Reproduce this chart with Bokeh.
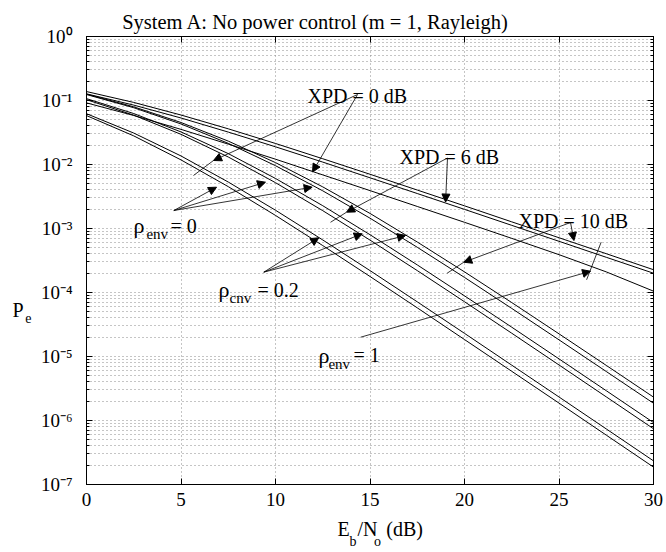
from bokeh.plotting import figure
from bokeh.models import LogAxis, LinearAxis, FixedTicker, Label, Arrow, NormalHead, Range1d
from bokeh.embed import file_html
from bokeh.resources import INLINE

# ---------------- data ----------------
snr_db = [0, 2.5, 5, 7.5, 10, 12.5, 15, 17.5, 20, 22.5, 25, 27.5, 30]

# rho_env = 1 (no diversity gain)
pe_rho1_xpd0 = [0.0918, 0.0583, 0.0354, 0.0208, 0.0121, 0.00688, 0.00391, 0.00221, 0.00125, 0.000701, 0.000390, 0.000210, 0.000105]
pe_rho1_xpd6 = [0.127, 0.0847, 0.0533, 0.0321, 0.0189, 0.0109, 0.00620, 0.00352, 0.00199, 0.00112, 0.000631, 0.000355, 0.000200]
pe_rho1_xpd10 = [0.138, 0.0933, 0.0593, 0.0361, 0.0213, 0.0123, 0.00704, 0.00399, 0.00226, 0.00127, 0.000717, 0.000404, 0.000227]
# rho_env = 0
pe_rho0_xpd0 = [0.0581, 0.0280, 0.0118, 0.00451, 0.00160, 0.000541, 0.000178, 5.76e-5, 1.84e-5, 5.87e-6, 1.87e-6, 5.91e-7, 1.87e-7]
pe_rho0_xpd6 = [0.103, 0.0590, 0.0296, 0.0131, 0.00520, 0.00190, 0.000659, 0.000220, 7.17e-5, 2.31e-5, 7.37e-6, 2.34e-6, 7.43e-7]
pe_rho0_xpd10 = [0.124, 0.0771, 0.0430, 0.0214, 0.00958, 0.00388, 0.00145, 0.000509, 0.000172, 5.64e-5, 1.82e-5, 5.83e-6, 1.86e-6]
# rho_env = 0.2
pe_rho02_xpd0 = [0.0622, 0.0310, 0.0136, 0.00532, 0.00193, 0.000662, 0.000220, 7.15e-5, 2.30e-5, 7.32e-6, 2.33e-6, 7.39e-7, 2.34e-7]
pe_rho02_xpd6 = [0.107, 0.0625, 0.0323, 0.0148, 0.00605, 0.00227, 0.000800, 0.000270, 8.87e-5, 2.87e-5, 9.18e-6, 2.92e-6, 9.28e-7]
pe_rho02_xpd10 = [0.126, 0.0796, 0.0453, 0.0232, 0.0107, 0.00447, 0.00172, 0.000615, 0.000210, 6.96e-5, 2.26e-5, 7.26e-6, 2.32e-6]

series = [pe_rho1_xpd0, pe_rho1_xpd6, pe_rho1_xpd10,
          pe_rho0_xpd0, pe_rho0_xpd6, pe_rho0_xpd10,
          pe_rho02_xpd0, pe_rho02_xpd6, pe_rho02_xpd10]

x_ticks = [0, 5, 10, 15, 20, 25, 30]
y_decades = [1e-7, 1e-6, 1e-5, 1e-4, 1e-3, 1e-2, 1e-1, 1e0]
y_tick_labels = ["10\u207b\u2077", "10\u207b\u2076", "10\u207b\u2075", "10\u207b\u2074",
                 "10\u207b\u00b3", "10\u207b\u00b2", "10\u207b\u00b9", "10\u2070"]
y_minor = [k * d for d in y_decades[:-1] for k in range(2, 10)]

title_text = "System A: No power control (m = 1, Rayleigh)"
FONT = "Liberation Serif"

# ---------------- figure ----------------
p = figure(frame_width=567, frame_height=448,
           x_range=Range1d(0, 30), y_range=Range1d(1e-7, 1),
           y_axis_type="log", output_backend="svg", toolbar_location=None,
           min_border_left=86, min_border_right=13, min_border_top=36, min_border_bottom=68,
           title=None)
p.background_fill_color = "white"
p.border_fill_color = "white"
p.outline_line_color = "black"
p.outline_line_width = 1

xt = FixedTicker(ticks=x_ticks, minor_ticks=[])
yt = FixedTicker(ticks=y_decades, minor_ticks=y_minor)
p.xaxis.ticker = xt
p.yaxis.ticker = yt

for ax in (p.xaxis[0], p.yaxis[0]):
    ax.axis_line_color = "black"
    ax.major_tick_line_color = "black"
    ax.minor_tick_line_color = "black"
    ax.major_tick_in = 6
    ax.major_tick_out = 0
    ax.minor_tick_in = 3
    ax.minor_tick_out = 0
    ax.major_label_text_font = FONT
    ax.major_label_text_font_size = "19px"
    ax.major_label_text_color = "black"
p.xaxis.major_label_standoff = 8
p.yaxis.major_label_standoff = 14
p.yaxis.major_label_overrides = dict(zip(y_decades, y_tick_labels))

top_ax = LinearAxis(ticker=xt, major_tick_in=6, major_tick_out=0, minor_tick_in=0, minor_tick_out=0,
                    major_label_text_font_size="1px", major_label_text_color=None,
                    major_label_standoff=0, axis_line_color="black")
right_ax = LogAxis(ticker=yt, major_tick_in=6, major_tick_out=0, minor_tick_in=3, minor_tick_out=0,
                   major_label_text_font_size="1px", major_label_text_color=None,
                   major_label_standoff=0, axis_line_color="black")
p.add_layout(top_ax, "above")
p.add_layout(right_ax, "right")

# texts outside the frame: carried by extra (line-less) axes so they are not clipped
def text_axis(place, positions, texts, size, standoff, log=False):
    tk = FixedTicker(ticks=positions, minor_ticks=[])
    cls = LogAxis if log else LinearAxis
    ax = cls(ticker=tk, axis_line_color=None, major_tick_line_color=None, minor_tick_line_color=None,
             major_tick_in=0, major_tick_out=0, minor_tick_in=0, minor_tick_out=0,
             major_label_standoff=standoff, major_label_text_font=FONT,
             major_label_text_font_size=f"{size}px", major_label_text_color="black",
             major_label_overrides=dict(zip(positions, texts)))
    p.add_layout(ax, place)

# title
text_axis("above", [12.12], [title_text], 20.5, 4)
# x label  E_b/N_o (dB): main-size pieces, then subscripts
text_axis("below", [13.60, 14.87, 16.83], ["E", "/N", "(dB)"], 20, 9)
text_axis("below", [14.10, 15.40], ["b", "o"], 14, -9)
# y label  P_e: subscript next to the tick labels, then P
text_axis("left", [3.93e-5], ["e"], 14, 6, log=True)
text_axis("left", [5.42e-5], ["P"], 20, -1, log=True)

# dotted grid (MATLAB style)
p.xgrid.ticker = xt
p.xgrid.grid_line_color = "#8a8a8a"
p.xgrid.grid_line_dash = "1 3"
p.ygrid.ticker = yt
p.ygrid.grid_line_color = "#8a8a8a"
p.ygrid.grid_line_dash = "1 3"
p.ygrid.minor_grid_line_color = "#8a8a8a"
p.ygrid.minor_grid_line_dash = "1 3"

# ---------------- curves ----------------
for s in series:
    p.line(snr_db, s, line_color="black", line_width=1)

# ---------------- texts inside the frame ----------------
def txt(s, x, y, size):
    p.add_layout(Label(x=x, y=y, text=s, text_font=FONT, text_font_size=f"{size}px",
                       text_align="left", text_baseline="alphabetic", text_color="black"))

txt("XPD = 0 dB", 11.69, 0.1197, 20)
txt("XPD = 6 dB", 16.56, 0.0130, 20)
txt("XPD = 10 dB", 22.86, 0.00131, 20)

txt("\u03c1", 2.49, 0.00111, 22)
txt("env", 3.17, 0.000806, 15)
txt("= 0", 4.44, 0.00111, 20)

txt("\u03c1", 6.98, 0.000111, 22)
txt("cnv", 7.57, 8.06e-5, 15)
txt("= 0.2", 9.05, 0.000111, 20)

txt("\u03c1", 12.28, 1.04e-5, 22)
txt("env", 12.80, 7.5e-6, 15)
txt("= 1", 14.13, 1.04e-5, 20)

# ---------------- arrows ----------------
def arrow(x0, y0, x1, y1, head=True):
    end = NormalHead(size=8, fill_color="black", line_color="black", line_width=1) if head else None
    p.add_layout(Arrow(x_start=x0, y_start=y0, x_end=x1, y_end=y1, end=end,
                       line_color="black", line_width=0.8))

# XPD = 0 dB
arrow(14.34, 0.124, 6.72, 0.01155)
arrow(6.72, 0.01155, 5.66, 0.00673, head=False)
arrow(14.34, 0.124, 11.96, 0.00764)
# XPD = 6 dB
arrow(19.10, 0.01264, 19.0, 0.00259)
arrow(19.10, 0.01264, 13.76, 0.0018)
arrow(13.76, 0.0018, 12.91, 0.00125, head=False)
# XPD = 10 dB
arrow(25.61, 0.00124, 25.79, 0.000649)
arrow(25.61, 0.00124, 19.96, 0.000297)
arrow(19.96, 0.000297, 19.08, 0.0002, head=False)
# rho_env = 0
arrow(4.62, 0.00191, 6.88, 0.00442)
arrow(4.62, 0.00191, 9.47, 0.00529)
arrow(4.62, 0.00191, 11.94, 0.00442)
# rho_env = 0.2
arrow(9.38, 0.000208, 12.29, 0.000716)
arrow(9.38, 0.000208, 14.59, 0.000826)
arrow(9.38, 0.000208, 16.88, 0.000778)
# rho_env = 1
arrow(14.50, 2.0e-5, 26.67, 0.000215)
arrow(27.23, 0.000611, 26.46, 0.000158, head=False)

open("out.html", "w").write(file_html(p, INLINE))
